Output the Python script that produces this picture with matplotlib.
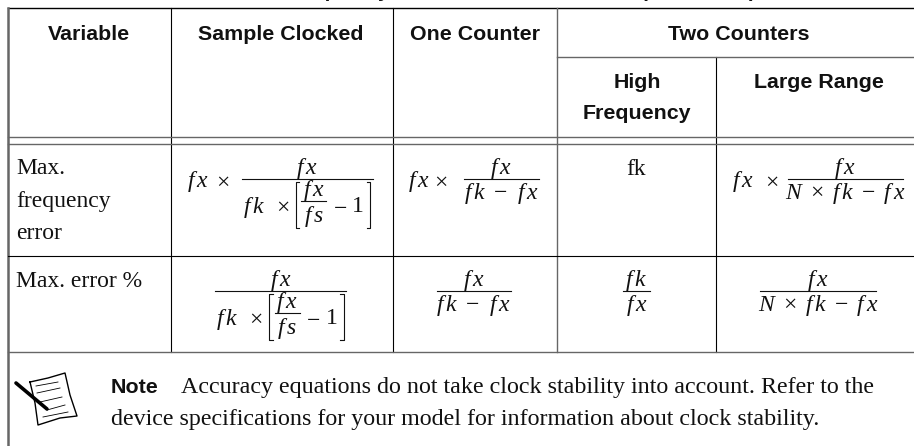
import matplotlib
matplotlib.use("Agg")
import matplotlib.pyplot as plt

plt.rcParams['mathtext.fontset'] = 'custom'
plt.rcParams['mathtext.rm'] = 'Liberation Serif'
plt.rcParams['mathtext.it'] = 'Liberation Serif:italic'
plt.rcParams['mathtext.bf'] = 'Liberation Serif:bold'

# table content
headers = ["Variable", "Sample Clocked", "One Counter", "Two Counters"]
sub_headers = ["High", "Frequency", "Large Range"]
row_labels = ["Max.", "frequency", "error", "Max. error %"]
fx = r"$f\,x$"
fk = r"$f\,k$"
fs = r"$f\,s$"
one_counter_den = r"$f\,k\:\,-\:\,f\,x$"
large_range_den = r"$N\,\,\times\,\,f\,k\,\,-\,\,f\,x$"
fk_plain = "fk"
note_label = "Note"
note_first = "Accuracy equations do not take clock stability into account. Refer to the"
note_second = "device specifications for your model for information about clock stability."

fig = plt.figure(figsize=(9.14, 4.46), dpi=100)
ax = fig.add_axes([0, 0, 1, 1])
ax.set_xlim(0, 914)
ax.set_ylim(446, 0)
ax.axis('off')

dark = '#111111'
grey = '#666666'
serif_size = 17
sans_size = 15.4


def eq_text(x, y, s, ha='center'):
    ax.text(x, y, s, fontsize=serif_size, color=dark, ha=ha, va='baseline')


def frac(x0, x1, y, top, bottom):
    ax.plot([x0, x1], [y, y], color=dark, lw=0.8)
    eq_text((x0 + x1) / 2, y - 4.7, top)
    if bottom:
        eq_text((x0 + x1) / 2, y + 19.5, bottom)


def sample_frac(x0, y):
    # fx over fk x [fx/fs - 1], drawn from the left end of the main bar
    frac(x0, x0 + 131, y, fx, None)
    eq_text(x0 + 1.5, y + 33.5, fk, ha='left')
    eq_text(x0 + 41, y + 33.5, r"$\times$")
    ax.plot([x0 + 57.5, x0 + 54, x0 + 54, x0 + 57.5], [y + 2.5, y + 2.5, y + 49, y + 49], color=dark, lw=0.8)
    ax.plot([x0 + 125, x0 + 128.5, x0 + 128.5, x0 + 125], [y + 2.5, y + 2.5, y + 49, y + 49], color=dark, lw=0.8)
    frac(x0 + 59.5, x0 + 84.5, y + 22, fx, None)
    eq_text(x0 + 72, y + 43, fs)
    eq_text(x0 + 98, y + 33.5, r"$-$")
    eq_text(x0 + 116, y + 33.5, r"$1$")


# grid lines
ax.plot([8, 914], [8.3, 8.3], color='black', lw=1.0)
ax.plot([8, 8], [8, 446], color=grey, lw=1.8)
ax.plot([170.5, 170.5], [8, 352], color='black', lw=0.8)
ax.plot([392.5, 392.5], [8, 352], color='black', lw=0.8)
ax.plot([557, 557], [8, 352], color=grey, lw=1.0)
ax.plot([716, 716], [57, 352], color='black', lw=0.8)
ax.plot([557, 914], [56.7, 56.7], color=grey, lw=1.0)
ax.plot([8, 914], [137.3, 137.3], color=grey, lw=1.0)
ax.plot([8, 914], [143.7, 143.7], color=grey, lw=1.0)
ax.plot([8, 914], [256.3, 256.3], color='black', lw=0.8)
ax.plot([8, 914], [352.3, 352.3], color=grey, lw=1.0)

# caption sits mostly above the crop, only descenders show
ax.text(287, -2.8, "Frequency", family='Liberation Sans', weight='bold', fontsize=14.8,
        color=dark, ha='left', va='baseline')
ax.text(641, -2.8, "(Continued)", family='Liberation Sans', weight='bold', fontsize=14.8,
        color=dark, ha='left', va='baseline')

# headers
head_x = [89, 281, 475, 739]
for x, h in zip(head_x, headers):
    ax.text(x, 40, h, family='Liberation Sans', weight='bold', fontsize=sans_size,
            color=dark, ha='center', va='baseline')
for x, y, s in zip([637, 637, 819], [88, 119, 88], sub_headers):
    ax.text(x, y, s, family='Liberation Sans', weight='bold', fontsize=sans_size,
            color=dark, ha='center', va='baseline')

# row labels
for y, s in zip([174, 207, 239, 287], row_labels):
    ax.text(16, y, s, family='Liberation Serif', fontsize=serif_size, color=dark, va='baseline')

# first row of equations
eq_text(187, 186.7, fx, ha='left')
eq_text(223, 186.7, r"$\times$")
sample_frac(241.7, 179)
eq_text(408, 186.7, fx, ha='left')
eq_text(441, 186.7, r"$\times$")
frac(463.7, 538.7, 179, fx, one_counter_den)
ax.text(636, 175, fk_plain, family='Liberation Serif', fontsize=serif_size, color=dark,
        ha='center', va='baseline')
eq_text(732, 186.7, fx, ha='left')
eq_text(772, 186.7, r"$\times$")
frac(787.7, 903, 179, fx, large_range_den)

# second row of equations
sample_frac(215, 291)
frac(437, 511, 291, fx, one_counter_den)
frac(623, 650, 291, fk, fx)
frac(760, 876, 291, fx, large_range_den)

# note
ax.text(111, 392.7, note_label, family='Liberation Sans', weight='bold', fontsize=sans_size,
        color=dark, va='baseline')
ax.text(181, 392.7, note_first, family='Liberation Serif', fontsize=17.25, color=dark, va='baseline')
ax.text(111, 425, note_second, family='Liberation Serif', fontsize=17.25, color=dark, va='baseline')

# note icon
ax.plot([30, 48, 65, 70, 77, 60, 38, 35, 30], [382, 378, 373, 395, 416, 418, 425, 403, 382],
        color='black', lw=1.0)
for xa, ya, xb, yb in [(36, 386, 58, 382), (37, 393, 60, 388), (40, 402, 62, 397),
                       (47, 410, 65, 405), (43, 417, 68, 412)]:
    ax.plot([xa, xb], [ya, yb], color='black', lw=0.6)
ax.plot([16, 47], [383, 409], color='black', lw=2.6, solid_capstyle='round')

fig.savefig("out.png", dpi=100)
